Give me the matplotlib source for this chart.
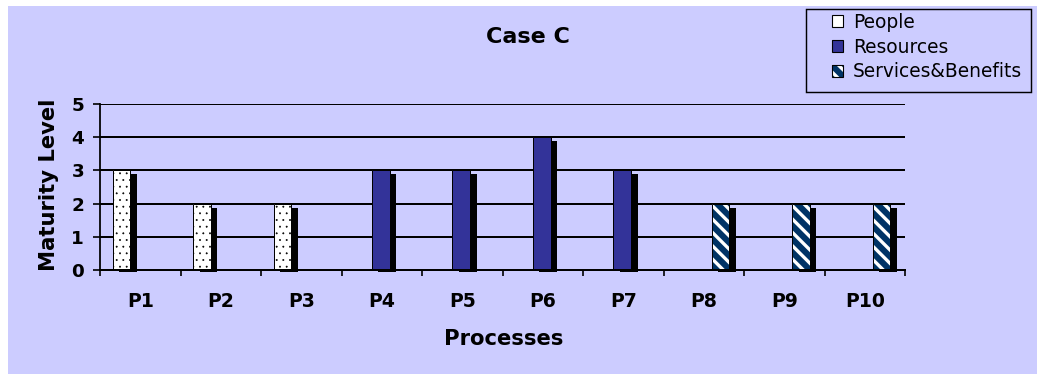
import numpy as np
import matplotlib.pyplot as plt
from matplotlib.patches import Rectangle, Patch
from matplotlib.legend_handler import HandlerTuple

processes = ['P1', 'P2', 'P3', 'P4', 'P5', 'P6', 'P7', 'P8', 'P9', 'P10']
people = [3, 2, 2, 0, 0, 0, 0, 0, 0, 0]
resources = [0, 0, 0, 3, 3, 4, 3, 0, 0, 0]
services = [0, 0, 0, 0, 0, 0, 0, 2, 2, 2]
series_names = ['People', 'Resources', 'Services&Benefits']

W, H, DPI = 1037, 374, 80
bg = '#CCCCFF'
navy = '#003366'
purple = '#333399'

plt.rcParams['font.family'] = 'DejaVu Sans'
plt.rcParams['hatch.linewidth'] = 3.0

fig = plt.figure(figsize=(W / DPI, H / DPI), dpi=DPI)
fig.patch.set_facecolor('white')
fig.patches.append(Rectangle((8 / W, 0), 1 - 8 / W, 1 - 6 / H, transform=fig.transFigure,
                             facecolor=bg, edgecolor='none', zorder=-10))

ax = fig.add_axes([100 / W, 104 / H, 805 / W, 166 / H])
ax.set_facecolor('none')

x = np.arange(len(processes))
width = 0.22
shift = -0.012
dx_sh = 0.081      # shadow offset, x units
top_sh = 0.12      # shadow drop at top, y units
bot_sh = 0.06

def draw_series(vals, offset, face, hatch=None, hatch_col='black', hatch_lw=None):
    vals = np.asarray(vals, dtype=float)
    keep = vals > 0
    xs = x[keep] + shift + offset
    v = vals[keep]
    # black drop shadow behind each bar
    ax.bar(xs + dx_sh, v - top_sh + bot_sh, width, bottom=-bot_sh, color='black',
           linewidth=0, zorder=2, clip_on=False)
    bars = ax.bar(xs, v, width, color=face, edgecolor=hatch_col, linewidth=0,
                  hatch=hatch, zorder=3)
    if hatch_lw is not None:
        for b in bars:
            if hasattr(b, 'set_hatch_linewidth'):
                b.set_hatch_linewidth(hatch_lw)
    ax.bar(xs, v, width, fill=False, edgecolor='black', linewidth=0.9, zorder=4)

draw_series(people, -width, 'white', hatch='..', hatch_col='black', hatch_lw=0.5)
draw_series(resources, 0.0, purple)
draw_series(services, width, navy, hatch='\\\\', hatch_col='white', hatch_lw=3.0)

ax.set_xlim(-0.5, len(processes) - 0.5)
ax.set_ylim(0, 5)
ax.set_yticks(range(0, 6))
for yv in range(1, 6):
    ax.axhline(yv, color='black', linewidth=1.8, zorder=1)

for s in ['top', 'right']:
    ax.spines[s].set_visible(False)
ax.spines['left'].set_linewidth(1.6)
ax.spines['bottom'].set_linewidth(1.8)
ax.spines['bottom'].set_zorder(5)

ax.set_xticks(x)
ax.set_xticklabels(processes, fontsize=17, fontweight='bold')
ax.set_xticks(np.arange(-0.5, len(processes)), minor=True)
ax.tick_params(axis='x', which='major', length=0, pad=20)
ax.tick_params(axis='x', which='minor', length=5.4, width=1.5, direction='out')
ax.tick_params(axis='y', length=6.3, width=1.5, pad=8, labelsize=16.5)
for lbl in ax.get_yticklabels():
    lbl.set_fontweight('bold')

fig.text(528 / W, 1 - 37 / H, 'Case C', ha='center', va='center',
         fontsize=20, fontweight='bold')
fig.text(504 / W, 1 - 339 / H, 'Processes', ha='center', va='center',
         fontsize=19, fontweight='bold')
fig.text(49 / W, 1 - 185 / H, 'Maturity Level', ha='center', va='center',
         rotation=90, fontsize=19, fontweight='bold')

# legend box
fig.patches.append(Rectangle((805.7 / W, 1 - 91.7 / H), (1031 - 805.7) / W, (91.7 - 9.3) / H,
                             transform=fig.transFigure, facecolor=bg, edgecolor='black',
                             linewidth=1.3, zorder=5))
outline = dict(fill=False, edgecolor='black', linewidth=1.0)
handles = [
    (Patch(facecolor='white', linewidth=0), Patch(**outline)),
    (Patch(facecolor=purple, linewidth=0), Patch(**outline)),
    (Patch(facecolor=navy, edgecolor='white', hatch='\\\\', linewidth=0), Patch(**outline)),
]
leg = fig.legend(handles, series_names, loc='upper left',
                 handler_map={tuple: HandlerTuple(ndivide=1, pad=0)},
                 bbox_to_anchor=(831.7 / W, 1 - 13 / H), bbox_transform=fig.transFigure,
                 frameon=False, fontsize=16.8, handlelength=0.62, handleheight=0.62,
                 handletextpad=0.52, labelspacing=0.3, borderpad=0, borderaxespad=0)
leg.set_zorder(6)

fig.savefig('out.png', dpi=DPI)
